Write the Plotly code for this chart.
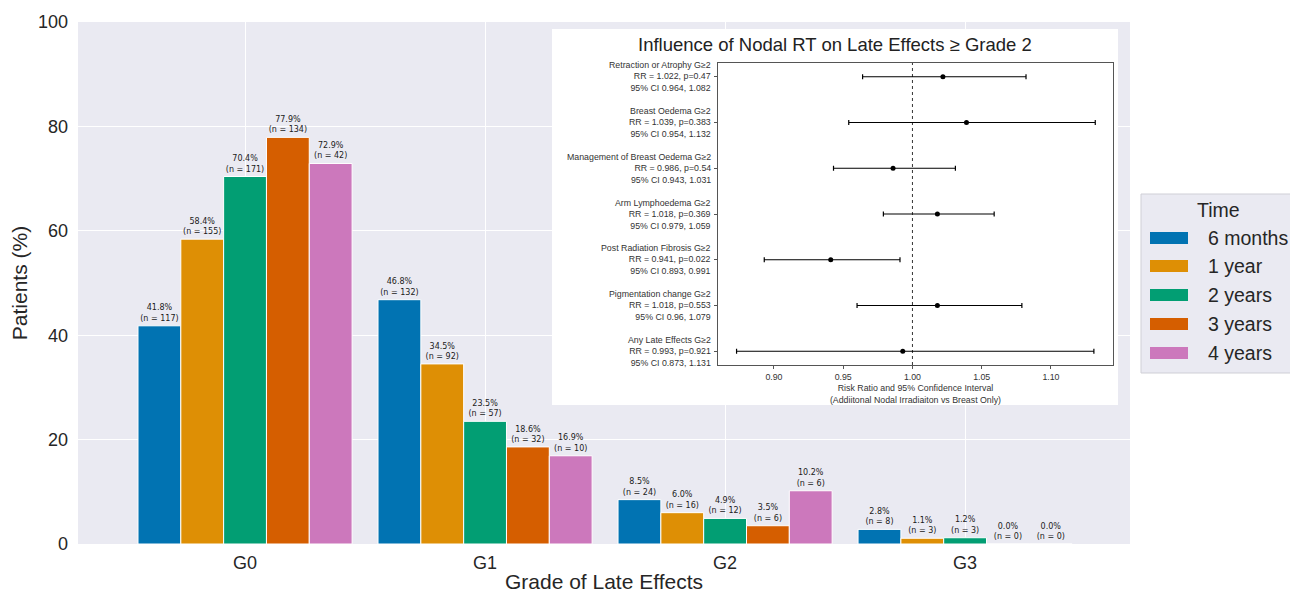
import plotly.graph_objects as go

# ---- Late effects by grade and time point ----
grades = ["G0", "G1", "G2", "G3"]
time_points = ["6 months", "1 year", "2 years", "3 years", "4 years"]
colors = ["#0173B2", "#DE8F05", "#029E73", "#D55E00", "#CC78BC"]

pct_6m = [41.8, 46.8, 8.5, 2.8]
pct_1y = [58.4, 34.5, 6.0, 1.1]
pct_2y = [70.4, 23.5, 4.9, 1.2]
pct_3y = [77.9, 18.6, 3.5, 0.0]
pct_4y = [72.9, 16.9, 10.2, 0.0]

n_6m = [117, 132, 24, 8]
n_1y = [155, 92, 16, 3]
n_2y = [171, 57, 12, 3]
n_3y = [134, 32, 6, 0]
n_4y = [42, 10, 6, 0]

percentages = [pct_6m, pct_1y, pct_2y, pct_3y, pct_4y]
counts = [n_6m, n_1y, n_2y, n_3y, n_4y]

# ---- Forest plot: nodal RT vs breast only, late effects >= grade 2 ----
effects = [
    "Retraction or Atrophy G≥2",
    "Breast Oedema G≥2",
    "Management of Breast Oedema G≥2",
    "Arm Lymphoedema G≥2",
    "Post Radiation Fibrosis G≥2",
    "Pigmentation change G≥2",
    "Any Late Effects G≥2",
]
risk_ratio = [1.022, 1.039, 0.986, 1.018, 0.941, 1.018, 0.993]
p_value = [0.47, 0.383, 0.54, 0.369, 0.022, 0.553, 0.921]
ci_low = [0.964, 0.954, 0.943, 0.979, 0.893, 0.96, 0.873]
ci_high = [1.082, 1.132, 1.031, 1.059, 0.991, 1.079, 1.131]
rr_ticks = [0.90, 0.95, 1.00, 1.05, 1.10]

FONT = "Liberation Sans, Arial, sans-serif"
TEXT = "#262626"
BG = "#EAEAF2"

W, H = 1290, 594
L, R, T, B = 78, 160, 22, 50
PW, PH = W - L - R, H - T - B


def px_x(px):
    return (px - L) / PW


def px_y(py):
    return (H - B - py) / PH


fig = go.Figure()

# grouped bars
for name, col, vals, ns in zip(time_points, colors, percentages, counts):
    fig.add_trace(go.Bar(
        x=grades, y=vals, name=name,
        marker=dict(color=col, line=dict(color="white", width=1)),
        text=[f"{v:.1f}%<br>(n = {n})" for v, n in zip(vals, ns)],
        textposition="outside", constraintext="none", cliponaxis=False,
        textfont=dict(family="DejaVu Sans", size=8, color="#1a1a1a"),
        xaxis="x", yaxis="y", showlegend=False,
    ))

# placeholder trace so the inset panel subplot exists
fig.add_trace(go.Scatter(x=[0.5], y=[0.5], mode="markers", marker=dict(opacity=0),
                         hoverinfo="skip", showlegend=False, xaxis="x2", yaxis="y2"))

# forest plot
row_idx = list(range(len(effects)))
fig.add_trace(go.Scatter(
    x=risk_ratio, y=row_idx, mode="markers",
    marker=dict(color="black", size=5),
    error_x=dict(type="data", symmetric=False,
                 array=[h - r for h, r in zip(ci_high, risk_ratio)],
                 arrayminus=[r - l for r, l in zip(risk_ratio, ci_low)],
                 color="black", thickness=1.2, width=2.5),
    xaxis="x3", yaxis="y3", showlegend=False,
))

row_labels = [
    f"{e}<br>RR = {r}, p={p}<br>95% CI {lo}, {hi}"
    for e, r, p, lo, hi in zip(effects, risk_ratio, p_value, ci_low, ci_high)
]

shapes = [
    # axes-area background of the main chart
    dict(type="rect", xref="paper", yref="paper", x0=0, x1=1, y0=0, y1=1,
         fillcolor=BG, line=dict(width=0), layer="below"),
    # reference line at RR = 1
    dict(type="line", xref="x3", yref="y3 domain", x0=1.0, x1=1.0, y0=0, y1=1,
         line=dict(color="black", width=0.8, dash="dot"), layer="above"),
    # legend box
    dict(type="rect", xref="paper", yref="paper",
         x0=px_x(1141), x1=px_x(1310), y0=px_y(373), y1=px_y(194),
         fillcolor=BG, line=dict(color="#cfcfd6", width=1), layer="below"),
]

annotations = [
    dict(text="Influence of Nodal RT on Late Effects ≥ Grade 2", xref="paper", yref="paper",
         x=px_x(835), y=px_y(44), xanchor="center", yanchor="middle", showarrow=False,
         font=dict(family=FONT, size=18.5, color="#222222")),
    dict(text="Time", xref="paper", yref="paper", x=px_x(1218), y=px_y(210),
         xanchor="center", yanchor="middle", showarrow=False,
         font=dict(family=FONT, size=19.5, color=TEXT)),
]

# right-aligned row labels of the forest plot
for lab, yi in zip(row_labels, row_idx):
    annotations.append(dict(text=lab, xref="paper", yref="y3", x=px_x(713), y=yi,
                            xanchor="right", yanchor="middle", align="right", showarrow=False,
                            font=dict(family=FONT, size=8.8, color="#333333")))

legend_rows = [238, 266, 295, 324, 353]
for name, col, yy in zip(time_points, colors, legend_rows):
    shapes.append(dict(type="rect", xref="paper", yref="paper",
                       x0=px_x(1150), x1=px_x(1188), y0=px_y(yy + 6), y1=px_y(yy - 6),
                       fillcolor=col, line=dict(width=0), layer="below"))
    annotations.append(dict(text=name, xref="paper", yref="paper", x=px_x(1206), y=px_y(yy),
                            xanchor="left", yanchor="middle", showarrow=False,
                            font=dict(family=FONT, size=19.5, color=TEXT)))

fig.update_layout(
    width=W, height=H,
    margin=dict(l=L, r=R, t=T, b=B, autoexpand=False),
    paper_bgcolor="white", plot_bgcolor="white",
    barmode="group", bargap=0.108, bargroupgap=0,
    font=dict(family=FONT, color=TEXT),
    showlegend=False,
    xaxis=dict(
        type="category", categoryorder="array", categoryarray=grades,
        range=[-0.696, 3.687], domain=[0, 1], anchor="y",
        showgrid=True, gridcolor="white", gridwidth=1.2,
        showline=False, zeroline=False, ticks="",
        tickfont=dict(family=FONT, size=18, color=TEXT), ticklabelstandoff=6,
        title=dict(text="Grade of Late Effects", font=dict(family=FONT, size=21, color=TEXT), standoff=2),
    ),
    yaxis=dict(
        range=[0, 100], domain=[0, 1], anchor="x",
        tickvals=[0, 20, 40, 60, 80, 100],
        showgrid=True, gridcolor="white", gridwidth=1.2,
        showline=False, zeroline=False, ticks="",
        tickfont=dict(family=FONT, size=18, color=TEXT), ticklabelstandoff=9,
        title=dict(text="Patients (%)", font=dict(family=FONT, size=21, color=TEXT), standoff=4),
    ),
    xaxis2=dict(domain=[px_x(552), px_x(1118)], anchor="y2", range=[0, 1], visible=False),
    yaxis2=dict(domain=[px_y(405), px_y(29)], anchor="x2", range=[0, 1], visible=False),
    xaxis3=dict(
        domain=[px_x(718), px_x(1113)], anchor="y3",
        range=[0.8596, 1.1448], tickvals=rr_ticks, ticktext=[f"{v:.2f}" for v in rr_ticks],
        showgrid=False, zeroline=False,
        showline=True, mirror=True, linecolor="#555555", linewidth=1,
        ticks="outside", ticklen=3, tickcolor="#555555",
        tickfont=dict(family=FONT, size=8.8, color="#333333"),
        title=dict(text="Risk Ratio and 95% Confidence Interval<br>(Addiitonal Nodal Irradiaiton vs Breast Only)",
                   font=dict(family=FONT, size=8.8, color="#333333"), standoff=4),
    ),
    yaxis3=dict(
        domain=[px_y(365), px_y(63)], anchor="x3",
        range=[6.3, -0.3], tickvals=row_idx, showticklabels=False,
        showgrid=False, zeroline=False,
        showline=True, mirror=True, linecolor="#555555", linewidth=1,
        ticks="outside", ticklen=3, tickcolor="#555555",
    ),
    shapes=shapes,
    annotations=annotations,
)

fig.write_html("out.html")
